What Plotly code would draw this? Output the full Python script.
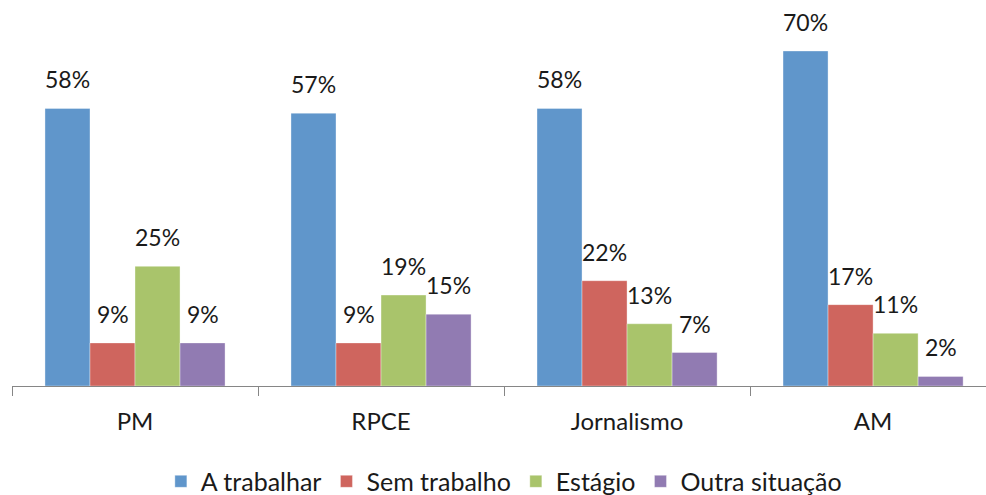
import plotly.graph_objects as go

categories = ["PM", "RPCE", "Jornalismo", "AM"]
series_names = ["A trabalhar", "Sem trabalho", "Estágio", "Outra situação"]
a_trabalhar = [58, 57, 58, 70]
sem_trabalho = [9, 9, 22, 17]
estagio = [25, 19, 13, 11]
outra = [9, 15, 7, 2]

colors = ["#6096CB", "#CF655E", "#A9C46B", "#917BB2"]
values = [a_trabalhar, sem_trabalho, estagio, outra]

BARGAP = 0.268

fig = go.Figure()
for name, vals, col in zip(series_names, values, colors):
    fig.add_trace(go.Bar(
        x=categories,
        y=vals,
        name=name,
        marker=dict(color=col, line=dict(color="rgba(255,255,255,0.35)", width=1)),
        hoverinfo="name+y",
    ))

# value labels sit above each bar, centred on the bar within its group
w = (1 - BARGAP) / len(series_names)
for j, vals in enumerate(values):
    for i, v in enumerate(vals):
        fig.add_annotation(
            x=i + (j - 1.5) * w, y=v, xref="x", yref="y",
            text=f"{v}%", showarrow=False,
            yanchor="bottom", yshift=13,
            font=dict(size=23, color="#1a1a1a"),
        )

fig.update_layout(
    width=986, height=495,
    margin=dict(l=12, r=0, t=0, b=109, autoexpand=False),
    barmode="group",
    bargap=BARGAP,
    bargroupgap=0,
    plot_bgcolor="white",
    paper_bgcolor="white",
    font=dict(family="Lato, Calibri, sans-serif", size=24, color="#1a1a1a"),
    showlegend=True,
    legend=dict(
        orientation="h",
        x=0.505, xanchor="center",
        y=-0.188, yanchor="top",
        font=dict(size=25),
        itemwidth=30,
        traceorder="normal",
    ),
    xaxis=dict(
        range=[-0.5, 3.459],
        showline=True, linecolor="#868686", linewidth=1,
        ticks="outside", tickson="boundaries", ticklen=9, tickcolor="#868686",
        ticklabelstandoff=14,
        showgrid=False, zeroline=False,
        tickfont=dict(size=24),
    ),
    yaxis=dict(
        range=[0, 80.65],
        visible=False,
        showgrid=False, zeroline=False,
    ),
)

# drop the browser's default body margin so the figure fills the window
fig.write_html(
    "out.html",
    config={"displayModeBar": False},
    post_script="document.body.style.margin='0px';",
)
